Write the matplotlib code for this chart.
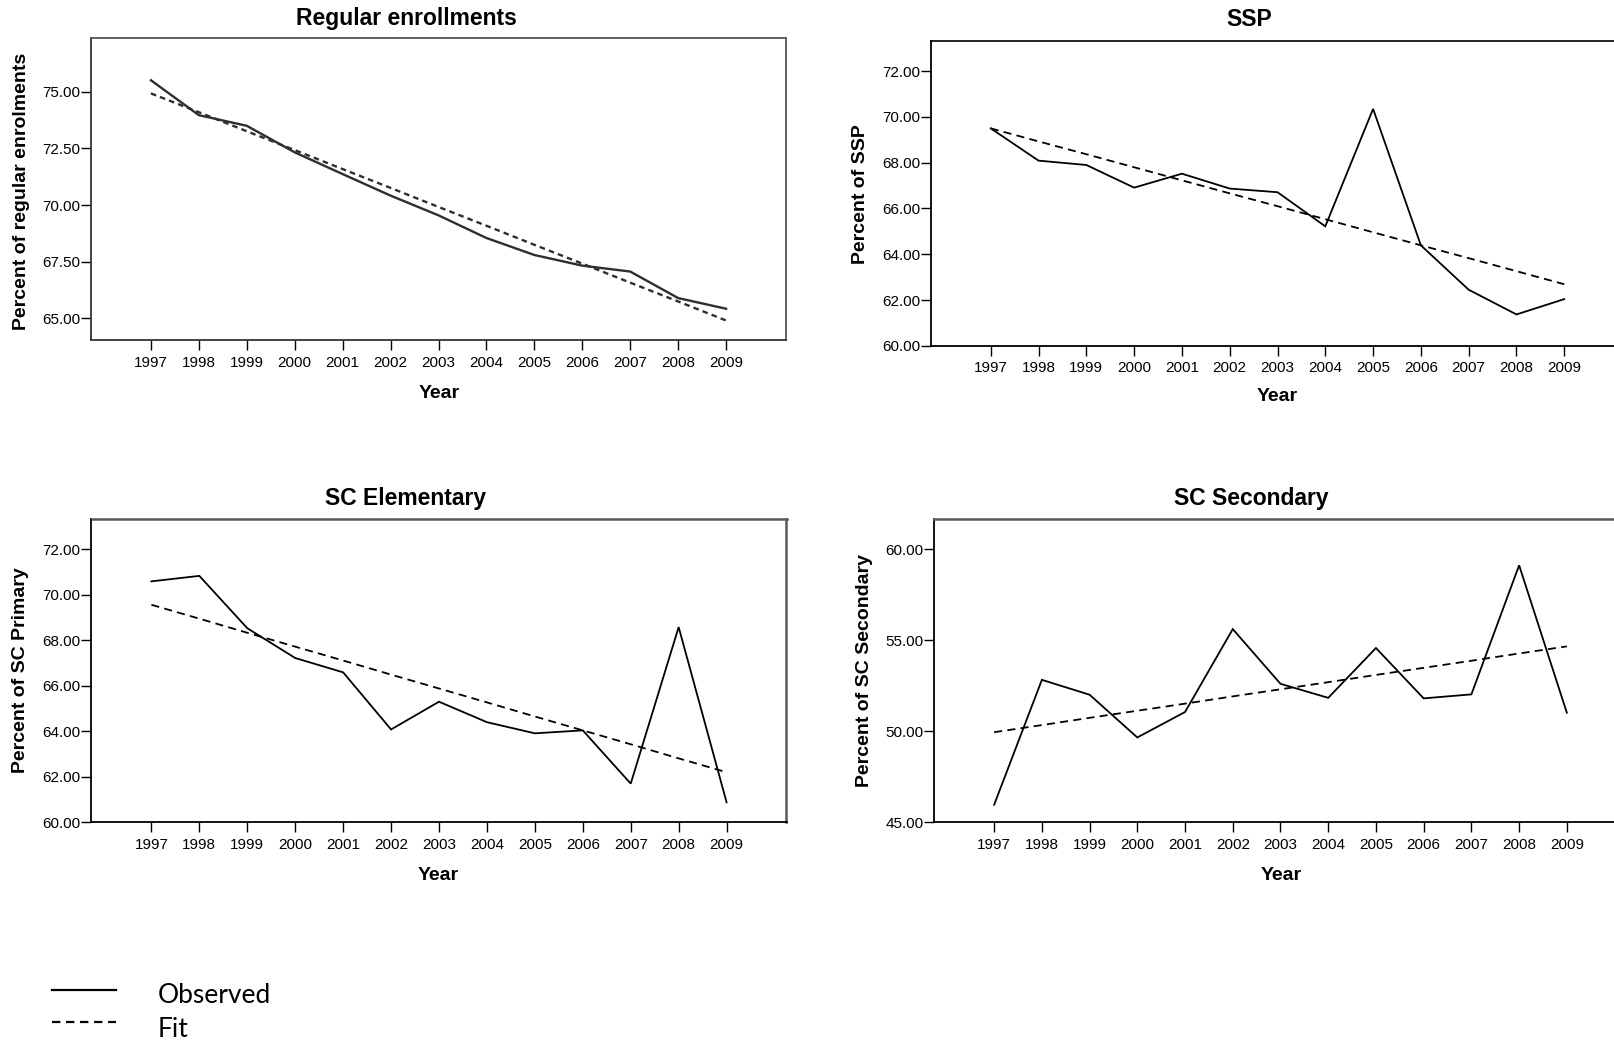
import matplotlib
matplotlib.use("Agg")
import matplotlib.pyplot as plt
from matplotlib.lines import Line2D

# ---------------- data ----------------
years = [1997, 1998, 1999, 2000, 2001, 2002, 2003, 2004, 2005, 2006, 2007, 2008, 2009]

regular_obs = [75.51, 73.97, 73.50, 72.33, 71.37, 70.42, 69.55, 68.55, 67.80, 67.33, 67.07, 65.90, 65.43]
regular_fit = [74.93, 74.10, 73.26, 72.43, 71.59, 70.76, 69.92, 69.09, 68.25, 67.42, 66.58, 65.75, 64.91]

ssp_obs = [69.50, 68.09, 67.90, 66.91, 67.52, 66.87, 66.71, 65.22, 70.35, 64.39, 62.45, 61.37, 62.04]
ssp_fit = [69.50, 68.93, 68.37, 67.80, 67.23, 66.66, 66.10, 65.53, 64.96, 64.39, 63.83, 63.26, 62.69]

elem_obs = [70.59, 70.83, 68.53, 67.22, 66.59, 64.08, 65.30, 64.40, 63.91, 64.04, 61.70, 68.58, 60.88]
elem_fit = [69.56, 68.95, 68.33, 67.72, 67.11, 66.49, 65.88, 65.27, 64.65, 64.04, 63.43, 62.81, 62.20]

sec_obs = [45.95, 52.82, 52.00, 49.65, 51.05, 55.61, 52.60, 51.83, 54.57, 51.80, 52.02, 59.12, 51.01]
sec_fit = [49.94, 50.33, 50.73, 51.12, 51.51, 51.91, 52.30, 52.69, 53.09, 53.48, 53.87, 54.27, 54.66]

titles = ["Regular enrollments", "SSP", "SC Elementary", "SC Secondary"]
ylabels = ["Percent of regular enrolments", "Percent of SSP",
           "Percent of SC Primary", "Percent of SC Secondary"]
yticks = [[65.0, 67.5, 70.0, 72.5, 75.0],
          [60, 62, 64, 66, 68, 70, 72],
          [60, 62, 64, 66, 68, 70, 72],
          [45, 50, 55, 60]]
ylims = [(64.05, 77.36), (60.0, 73.33), (60.0, 73.33), (45.0, 61.65)]
legend_labels = ["Observed", "Fit"]

# ---------------- layout ----------------
W, H = 1615, 1043
fig = plt.figure(figsize=(W / 100, H / 100), dpi=100)
plt.rcParams["lines.scale_dashes"] = False
FONT = ["Liberation Sans", "DejaVu Sans"]


def fx(x):
    return x / W


def fy(y):
    return 1 - y / H


# (left, top, width, bottom) in pixels
boxes = [(91, 38.3, 695, 340.0),
         (931, 40.7, 693, 345.8),
         (91.5, 519.0, 695, 822.3),
         (934.5, 519.3, 692, 822.0)]
title_pos = [(406, 18.5), (1249, 19.5), (406, 499), (1251, 499)]
ylabel_pos = [(22, 191), (861, 194), (21, 670.5), (865, 670.5)]
xlabel_pos = [(439, 393), (1277, 396.5), (438, 875), (1281, 875)]

series = [(regular_obs, regular_fit), (ssp_obs, ssp_fit),
          (elem_obs, elem_fit), (sec_obs, sec_fit)]

for i, (l, t, w, b) in enumerate(boxes):
    ax = fig.add_axes([fx(l), fy(b), fx(w), (b - t) / H])
    obs, fit = series[i]
    if i == 0:
        col, lw, dash = "#2e2e2e", 1.7, (4.0, 3.0)
    else:
        col, lw, dash = "black", 1.3, (5.8, 3.8)
    ax.plot(years, obs, color=col, lw=lw, solid_joinstyle="miter")
    ax.plot(years, fit, color=col, lw=lw, linestyle=(0, dash))
    ax.set_xlim(1995.75, 2010.25)
    ax.set_ylim(*ylims[i])
    ax.set_xticks(years)
    ax.set_xticklabels([str(y) for y in years], fontfamily=FONT, fontsize=11)
    ax.set_yticks(yticks[i])
    ax.set_yticklabels(["%.2f" % v for v in yticks[i]], fontfamily=FONT, fontsize=11)
    ax.tick_params(axis="x", direction="out", length=7.2, width=1.0, pad=4.0, colors="black")
    ax.tick_params(axis="y", direction="out", length=7.0, width=1.0, pad=0.9, colors="black")
    for s in ["left", "bottom"]:
        ax.spines[s].set_color("black")
        ax.spines[s].set_linewidth(1.3)
    for s in ["top", "right"]:
        if i == 0:
            ax.spines[s].set_color("#555555")
            ax.spines[s].set_linewidth(1.3)
        elif i == 1:
            ax.spines[s].set_color("black")
            ax.spines[s].set_linewidth(1.2)
        else:
            ax.spines[s].set_color("#5a5a5a")
            ax.spines[s].set_linewidth(1.8)
    if i == 0:
        ax.spines["left"].set_color("#333333")
        ax.spines["bottom"].set_color("#333333")

    tx, ty = title_pos[i]
    fig.text(fx(tx), fy(ty), titles[i], ha="center", va="center",
             fontfamily=FONT, fontweight="bold", fontsize=16.5)
    lx, ly = ylabel_pos[i]
    fig.text(fx(lx), fy(ly), ylabels[i], ha="center", va="center", rotation=90,
             fontfamily=FONT, fontweight="bold", fontsize=14)
    xx, xy = xlabel_pos[i]
    fig.text(fx(xx), fy(xy), "Year", ha="center", va="center",
             fontfamily=FONT, fontweight="bold", fontsize=14)

# ---------------- legend ----------------
fig.add_artist(Line2D([fx(51.7), fx(116)], [fy(990), fy(990)],
                      transform=fig.transFigure, color="black", lw=1.6))
fig.add_artist(Line2D([fx(51.7), fx(116)], [fy(1021.7), fy(1021.7)],
                      transform=fig.transFigure, color="black", lw=1.6,
                      linestyle=(0, (6.0, 4.1))))
LFONT = ["Lato", "DejaVu Sans"]
fig.text(fx(158), fy(1002.7), legend_labels[0], ha="left", va="baseline",
         fontfamily=LFONT, fontsize=19)
fig.text(fx(158), fy(1037.3), legend_labels[1], ha="left", va="baseline",
         fontfamily=LFONT, fontsize=19)

fig.savefig("out.png", dpi=100, facecolor="white")
